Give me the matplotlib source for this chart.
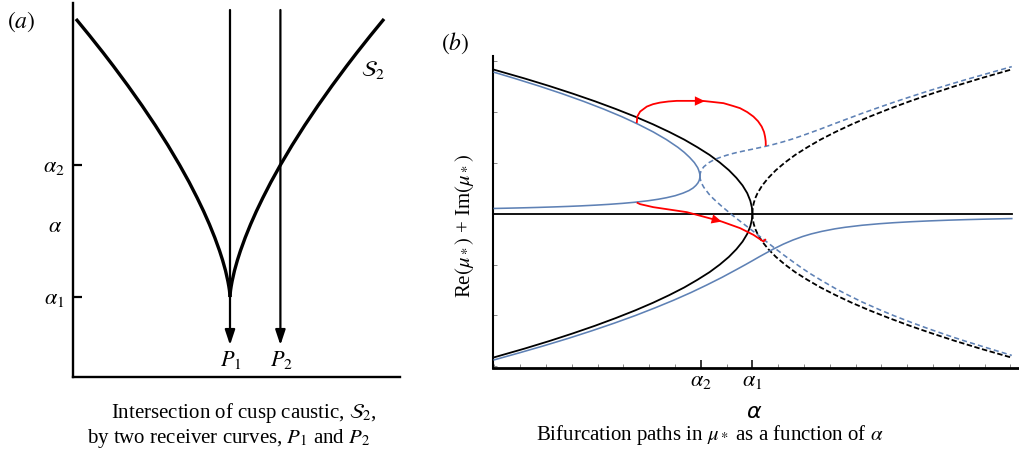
import matplotlib
matplotlib.use("Agg")
import matplotlib.pyplot as plt
import numpy as np

plt.rcParams["font.family"] = ["Liberation Serif", "DejaVu Serif"]
plt.rcParams["mathtext.fontset"] = "stix"

# ---------------- panel (a): cusp caustic S2 and two receiver curves ----------------
ALPHA1_A = 0.0          # cusp tip level
ALPHA2_A = 1.0          # level where P2 meets the caustic
ALPHA_MID_A = 0.523     # generic alpha label level

# half-width of the caustic (right branch) versus alpha; left branch mirrors it
cusp_alpha = [0.0, 0.02, 0.05, 0.08, 0.12, 0.2, 0.28, 0.35, 0.45, 0.55, 0.65,
              0.75, 0.87, 1.0, 1.15, 1.3, 1.45, 1.6, 1.75, 1.85, 1.98, 2.106]
cusp_offset = [0.0, 0.003, 0.011, 0.023, 0.042, 0.089, 0.148, 0.207, 0.302, 0.408,
               0.524, 0.650, 0.811, 1.0, 1.233, 1.482, 1.746, 2.024, 2.315, 2.516,
               2.786, 3.056]

receiver_x = [0.0, 1.0]
receiver_labels = [r"$P_1$", r"$P_2$"]
receiver_top = 2.174
receiver_tip = -0.364

# ---------------- panel (b): bifurcation paths of mu_* against alpha ----------------
ALPHA2_B = 8.0
ALPHA1_B = 10.0
alpha_extent = [0.0, 20.05]

# unperturbed roots: real branches (solid) and Re+Im of the complex pair (dashed)
black_solid_mu = [2.82, 2.65, 2.5, 2.35, 2.2, 2.05, 1.9, 1.75, 1.6, 1.45, 1.3, 1.15,
                  1.0, 0.85, 0.7, 0.55, 0.4, 0.25, 0.12, 0.0,
                  -0.12, -0.25, -0.4, -0.55, -0.7, -0.85, -1.0, -1.15, -1.3, -1.45,
                  -1.6, -1.75, -1.9, -2.05, -2.2, -2.35, -2.5, -2.65, -2.82]
black_solid_alpha = [0.0, 1.17, 2.14, 3.05, 3.91, 4.71, 5.46, 6.15, 6.78, 7.36, 7.87,
                     8.34, 8.74, 9.09, 9.38, 9.62, 9.80, 9.92, 9.98, 10.0,
                     9.98, 9.92, 9.80, 9.62, 9.38, 9.09, 8.74, 8.34, 7.87, 7.36,
                     6.78, 6.15, 5.46, 4.71, 3.91, 3.05, 2.14, 1.17, 0.0]
black_dashed_mu = [0.0, 0.1, 0.2, 0.3, 0.4, 0.55, 0.7, 0.85, 1.0, 1.15, 1.3, 1.45,
                   1.6, 1.75, 1.9, 2.05, 2.2, 2.35, 2.5, 2.65, 2.83]
black_dashed_alpha = [10.0, 10.013, 10.05, 10.11, 10.20, 10.38, 10.62, 10.91, 11.26,
                      11.66, 12.13, 12.64, 13.22, 13.85, 14.54, 15.29, 16.09, 16.95,
                      17.86, 18.83, 20.07]

# perturbed roots: upper/middle real branch folding at alpha_2
blue_fold_mu = [2.77, 2.65, 2.5, 2.35, 2.2, 2.05, 1.9, 1.75, 1.6, 1.45, 1.3, 1.2, 1.1,
                1.0, 0.9, 0.85, 0.8, 0.77, 0.734, 0.70, 0.65, 0.6, 0.55, 0.5, 0.45,
                0.4, 0.35, 0.31, 0.28, 0.25, 0.22, 0.2, 0.18, 0.165, 0.15, 0.14, 0.13,
                0.12, 0.115, 0.11, 0.105, 0.0995]
blue_fold_alpha = [0.0, 0.79, 1.74, 2.63, 3.46, 4.23, 4.94, 5.58, 6.16, 6.67, 7.11,
                   7.36, 7.57, 7.75, 7.88, 7.92, 7.95, 7.964, 7.97, 7.964, 7.94, 7.89,
                   7.81, 7.70, 7.54, 7.31, 7.01, 6.67, 6.35, 5.95, 5.42, 4.98, 4.44,
                   3.94, 3.35, 2.88, 2.33, 1.70, 1.34, 0.95, 0.52, 0.0]
# perturbed roots: lower real branch
blue_low_mu = [-2.87, -2.73, -2.6, -2.45, -2.3, -2.15, -2.0, -1.85, -1.7, -1.55, -1.4,
               -1.25, -1.1, -1.0, -0.92, -0.85, -0.8, -0.7, -0.6, -0.52, -0.45, -0.4,
               -0.35, -0.3, -0.27, -0.23, -0.2, -0.18, -0.16, -0.145, -0.13, -0.12,
               -0.11, -0.099]
blue_low_alpha = [0.0, 0.99, 1.88, 2.86, 3.78, 4.65, 5.47, 6.23, 6.95, 7.62, 8.24,
                  8.83, 9.38, 9.74, 10.02, 10.26, 10.44, 10.80, 11.20, 11.57, 11.95,
                  12.28, 12.69, 13.20, 13.59, 14.25, 14.92, 15.48, 16.18, 16.83,
                  17.62, 18.26, 19.02, 20.05]
# perturbed roots: complex pair beyond the fold, Re+Im and Re-Im
blue_pair_alpha = [7.97, 7.979, 8.00, 8.04, 8.12, 8.32, 8.48, 8.64, 8.83, 9.02, 9.20,
                   9.38, 9.74, 10.02, 10.44, 10.80, 11.20, 11.57, 11.95, 12.28, 12.69,
                   13.20, 13.59, 14.25, 14.92, 15.48, 16.18, 16.83, 17.62, 18.26,
                   19.02, 20.05]
blue_pair_upper = [0.734, 0.784, 0.82, 0.864, 0.918, 1.00, 1.045, 1.08, 1.116, 1.146,
                   1.172, 1.195, 1.235, 1.264, 1.31, 1.353, 1.408, 1.465, 1.531, 1.591,
                   1.667, 1.766, 1.840, 1.965, 2.085, 2.183, 2.30, 2.406, 2.529, 2.625,
                   2.734, 2.881]
blue_pair_lower = [0.734, 0.681, 0.64, 0.586, 0.512, 0.38, 0.295, 0.22, 0.134, 0.054,
                   -0.022, -0.095, -0.235, -0.344, -0.51, -0.653, -0.808, -0.945,
                   -1.081, -1.191, -1.317, -1.466, -1.570, -1.735, -1.885, -2.003,
                   -2.14, -2.261, -2.399, -2.505, -2.624, -2.783]

# paths followed by the stationary points (red)
jump_alpha = [5.52, 5.54, 5.65, 5.91, 6.15, 6.42, 6.75, 7.07, 7.97, 8.16, 8.88, 9.25,
              9.52, 9.8, 10.04, 10.22, 10.36, 10.45, 10.49, 10.515, 10.52]
jump_mu = [1.773, 1.902, 2.0, 2.098, 2.145, 2.176, 2.198, 2.21, 2.21, 2.205, 2.165,
           2.11, 2.067, 1.99, 1.902, 1.81, 1.706, 1.60, 1.51, 1.42, 1.327]
jump_head = (7, 9)
slide_alpha = [5.52, 5.65, 6.16, 7.46, 8.81, 9.52, 10.04, 10.43, 10.52]
slide_mu = [0.216, 0.184, 0.125, 0.027, -0.157, -0.286, -0.418, -0.549, -0.5]
slide_head = (3, 4)

BLUE = "#5E81B5"
RED = "#FF0000"

fig = plt.figure(figsize=(10.19, 4.53), dpi=100)

# ---------------- draw panel (a) ----------------
axa = fig.add_axes([73 / 1019, 76 / 453, 327 / 1019, 374 / 453])
off = np.array(cusp_offset)
axa.plot(-off, cusp_alpha, color="black", lw=2.4, solid_capstyle="butt")
axa.plot(off, cusp_alpha, color="black", lw=2.4, solid_capstyle="butt")
for xr, lab in zip(receiver_x, receiver_labels):
    axa.annotate("", xy=(xr, receiver_tip), xytext=(xr, receiver_top),
                 arrowprops=dict(arrowstyle="-|>,head_length=0.45,head_width=0.15",
                                 mutation_scale=20, color="black", lw=1.6,
                                 shrinkA=0, shrinkB=0))
    axa.text(xr + 0.02, -0.477, lab, ha="center", va="center", fontsize=16)
axa.text(2.84, 1.72, r"$\mathcal{S}_2$", ha="center", va="center", fontsize=16)

axa.set_xlim(-3.115, 3.373)
axa.set_ylim(-0.606, 2.227)
axa.set_xticks([])
axa.set_yticks([ALPHA1_A, ALPHA2_A])
axa.set_yticklabels([r"$\alpha_1$", r"$\alpha_2$"], fontsize=16)
axa.tick_params(axis="y", direction="in", length=6.5, width=1.6, pad=6)
axa.annotate(r"$\alpha$", xy=(0, ALPHA_MID_A), xycoords=("axes fraction", "data"),
             xytext=(-8, 0), textcoords="offset points", ha="right", va="center",
             fontsize=16)
for s in ("top", "right"):
    axa.spines[s].set_visible(False)
for s in ("left", "bottom"):
    axa.spines[s].set_linewidth(1.7)

fig.text(244 / 1019, 1 - 413 / 453, r"Intersection of cusp caustic, $\mathcal{S}_2$,",
         ha="center", va="center", fontsize=15)
fig.text(228.5 / 1019, 1 - 438 / 453, r"by two receiver curves, $P_1$ and $P_2$",
         ha="center", va="center", fontsize=15)
fig.text(21 / 1019, 1 - 22 / 453, r"$(a)$", ha="center", va="center", fontsize=17)

# ---------------- draw panel (b) ----------------
axb = fig.add_axes([493 / 1019, 85 / 453, 526 / 1019, 312 / 453])
axb.plot(alpha_extent, [0, 0], color="black", lw=1.3, zorder=2)
axb.plot(black_solid_alpha, black_solid_mu, color="black", lw=1.3, zorder=2)
dmu = np.array(black_dashed_mu)
for sgn in (1, -1):
    axb.plot(black_dashed_alpha, sgn * dmu, color="black", lw=1.3,
             linestyle=(0, (3.0, 1.4)), zorder=2)

axb.plot(blue_fold_alpha, blue_fold_mu, color=BLUE, lw=1.15, zorder=3)
axb.plot(blue_low_alpha, blue_low_mu, color=BLUE, lw=1.15, zorder=3)
axb.plot(blue_pair_alpha, blue_pair_upper, color=BLUE, lw=1.15,
         linestyle=(0, (3.2, 2.0)), zorder=3)
axb.plot(blue_pair_alpha, blue_pair_lower, color=BLUE, lw=1.15,
         linestyle=(0, (3.2, 2.0)), zorder=3)

for xs, ys, (i0, i1) in ((jump_alpha, jump_mu, jump_head),
                         (slide_alpha, slide_mu, slide_head)):
    axb.plot(xs, ys, color=RED, lw=1.3, zorder=4, solid_capstyle="butt",
             solid_joinstyle="round")
    axb.annotate("", xy=(xs[i1], ys[i1]), xytext=(xs[i0], ys[i0]),
                 arrowprops=dict(arrowstyle="-|>,head_length=0.6,head_width=0.28",
                                 mutation_scale=12, color=RED, lw=0.01,
                                 shrinkA=0, shrinkB=0), zorder=5)

axb.set_xlim(-0.05, 20.33)
axb.set_ylim(-3.03, 3.09)
axb.set_xticks([ALPHA2_B, ALPHA1_B])
axb.set_xticklabels([r"$\alpha_2$", r"$\alpha_1$"], fontsize=16)
axb.set_xticks([k for k in range(0, 21) if k not in (8, 10)], minor=True)
axb.set_yticks([])
axb.set_yticks([-3, -2, -1, 1, 2, 3], minor=True)
axb.tick_params(axis="x", which="major", direction="in", length=6, width=1.1, pad=3)
axb.tick_params(which="minor", direction="in", length=3, width=0.7, color="#888888")
for s in ("top", "right"):
    axb.spines[s].set_visible(False)
axb.spines["left"].set_linewidth(1.5)
axb.spines["bottom"].set_linewidth(2.0)

fig.text(465 / 1019, 1 - 226 / 453, r"Re$(\mu_*)$ + Im$(\mu_*)$", rotation=90,
         ha="center", va="center", fontsize=15)
fig.text(754 / 1019, 1 - 412 / 453, "α", family="DejaVu Sans", style="italic",
         ha="center", va="center", fontsize=16)
fig.text(710 / 1019, 1 - 435 / 453,
         r"Bifurcation paths in $\mu_*$ as a function of $\alpha$",
         ha="center", va="center", fontsize=15)
fig.text(455 / 1019, 1 - 43 / 453, r"$(b)$", ha="center", va="center", fontsize=17)

fig.savefig("out.png", dpi=100)
